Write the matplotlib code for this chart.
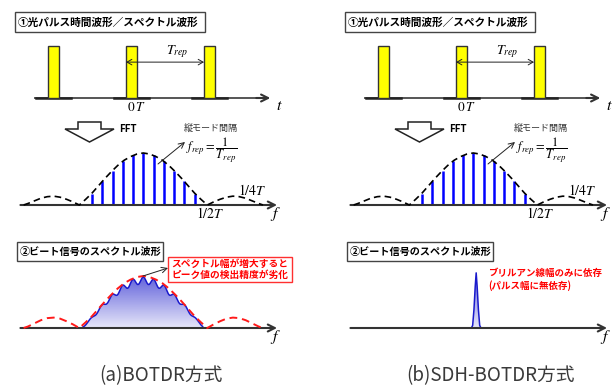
import matplotlib
matplotlib.use('Agg')
import matplotlib.pyplot as plt
import numpy as np
from matplotlib.patches import Rectangle, Polygon
from matplotlib.colors import LinearSegmentedColormap

plt.rcParams['font.family'] = ['Noto Sans CJK JP', 'DejaVu Sans']
plt.rcParams['mathtext.fontset'] = 'stix'

W, H = 615, 386

# optical pulse train, time in units of T_rep
pulse_times = [-1, 0, 1]
pulse_width = 0.14
pulse_height = 1.0

# longitudinal modes, frequency in units of 1/2T
mode_freqs = [-0.80, -0.64, -0.48, -0.32, -0.16, 0.0, 0.16, 0.32, 0.48, 0.64, 0.80]
mode_amps = [0.21, 0.46, 0.66, 0.84, 0.955, 1.0, 0.955, 0.84, 0.66, 0.46, 0.21]

# |sinc| envelope, positive half (mirrored when drawn)
env_freqs = [0.0, 0.1, 0.2, 0.3, 0.4, 0.5, 0.6, 0.7, 0.8, 0.9, 1.0,
             1.1, 1.2, 1.3, 1.4, 1.5, 1.6, 1.7, 1.8, 1.87]
env_spec = [1.0, 0.98, 0.93, 0.86, 0.76, 0.64, 0.51, 0.37, 0.23, 0.11, 0.0,
            0.06, 0.11, 0.15, 0.17, 0.16, 0.13, 0.08, 0.03, 0.0]
env_beat = [1.0, 0.98, 0.93, 0.86, 0.76, 0.64, 0.51, 0.37, 0.23, 0.11, 0.0,
            0.07, 0.13, 0.18, 0.20, 0.19, 0.15, 0.09, 0.03, 0.0]

# SDH-BOTDR beat spectrum: single Brillouin peak
peak_freqs = [-0.20, -0.03, -0.01, 0.01, 0.03, 0.045, 0.06, 0.08, 0.10, 0.12, 0.27]
peak_amps = [0.0, 0.0, 0.05, 0.35, 0.8, 1.06, 0.8, 0.35, 0.05, 0.0, 0.0]

fig = plt.figure(figsize=(W / 100, H / 100), dpi=100)


def panel(x0, y0, box, sx, sy):
    # axes whose data origin sits at pixel (x0, y0), sx/sy pixels per unit
    l, t, r, b = box
    ax = fig.add_axes([l / W, 1 - b / H, (r - l) / W, (b - t) / H])
    ax.set_xlim((l - x0) / sx, (r - x0) / sx)
    ax.set_ylim((y0 - b) / sy, (y0 - t) / sy)
    ax.axis('off')
    return ax


def freq_axis(ax):
    ax.annotate('', xy=(2.09, 0), xytext=(-1.92, 0),
                arrowprops=dict(arrowstyle='->,head_length=0.5,head_width=0.25',
                                color='#333333', lw=1.5, shrinkA=0, shrinkB=0))
    ax.text(2.07, -0.17, r'$f$', fontsize=11.5, ha='center', va='center')


def mirror(xs, ys):
    xs, ys = np.asarray(xs), np.asarray(ys)
    return np.r_[-xs[::-1], xs[1:]], np.r_[ys[::-1], ys[1:]]


ex, ey_spec = mirror(env_freqs, env_spec)
_, ey_beat = mirror(env_freqs, env_beat)

grad = LinearSegmentedColormap.from_list('beat', ['#e6e6f9', '#6565dc'])

for dx, mode in [(0, 'a'), (330, 'b')]:
    # pulse train in time
    ax = panel(131.5 + dx, 98, (25 + dx, 38, 295 + dx, 118), 78, 52)
    ax.plot([-1.24, 1.7], [0, 0], color='#555555', lw=1.4)
    for t0 in pulse_times:
        ax.plot([t0 - 0.22, t0 + 0.22], [0, 0], color='#222222', lw=1.8)
        ax.add_patch(Rectangle((t0 - pulse_width / 2, 0), pulse_width, pulse_height,
                               facecolor='#ffff00', edgecolor='#333333', lw=1, zorder=3))
    ax.annotate('', xy=(1.78, 0), xytext=(1.6, 0),
                arrowprops=dict(arrowstyle='->,head_length=0.5,head_width=0.25',
                                color='#333333', lw=1.5, shrinkA=0, shrinkB=0))
    ax.annotate('', xy=(1 - pulse_width / 2, 0.69), xytext=(-pulse_width / 2, 0.69),
                arrowprops=dict(arrowstyle='<->,head_length=0.35,head_width=0.2',
                                color='#222222', lw=0.7, shrinkA=0, shrinkB=0), zorder=4)
    ax.text(0.58, 0.9, r'$T_{rep}$', fontsize=10, ha='center', va='center')
    ax.text(0.06, -0.19, r'$0\,T$', fontsize=9.5, ha='center', va='center')
    ax.text(1.9, -0.15, r'$t$', fontsize=11.5, ha='center', va='center')

    # optical spectrum: mode lines under the sinc envelope
    ax = panel(143.3 + dx, 205, (15 + dx, 115, 292 + dx, 225), 64, 52)
    freq_axis(ax)
    ax.vlines(mode_freqs, 0, mode_amps, color='#0000ff', lw=1.8, zorder=2)
    ax.plot(ex, ey_spec, color='black', lw=1.2, dashes=(4, 2.5), zorder=3)
    ax.text(1.7, 0.27, r'$1/4T$', fontsize=10, ha='center', va='center')
    ax.text(1.04, -0.17, r'$1/2T$', fontsize=10, ha='center', va='center')

    # beat spectrum
    ax = panel(143.3 + dx, 328, (15 + dx, 262, 292 + dx, 350), 64, 52)
    freq_axis(ax)
    if mode == 'a':
        grid = np.linspace(-0.95, 0.93, 400)
        beat = sum(a * np.exp(-0.5 * ((grid - f) / 0.066) ** 2)
                   for f, a in zip(mode_freqs, mode_amps))
        beat = beat * 0.98 / beat.max()
        bx = np.r_[grid[0], grid, grid[-1]]
        by = np.r_[0, beat, 0]
        ax.plot(ex, ey_beat, color='#ff1a1a', lw=1.4, dashes=(4, 2.5), zorder=3)
    else:
        bx = np.asarray(peak_freqs)
        by = np.asarray(peak_amps)
    poly = Polygon(np.c_[bx, by], closed=True, facecolor='none', edgecolor='none')
    ax.add_patch(poly)
    img = ax.imshow(np.linspace(0, 1, 100)[:, None], cmap=grad, origin='lower',
                    extent=(bx.min(), bx.max(), 0, by.max()), aspect='auto', zorder=1)
    img.set_clip_path(poly)
    ax.plot(bx, by, color='#1a1acc', lw=1.1, zorder=2)
    l, t, r, b = (15 + dx, 262, 292 + dx, 350)
    ax.set_xlim((l - 143.3 - dx) / 64, (r - 143.3 - dx) / 64)
    ax.set_ylim((328 - b) / 52, (328 - t) / 52)

# overlay in pixel coordinates for boxes, labels and callouts
deco = fig.add_axes([0, 0, 1, 1], zorder=5)
deco.set_xlim(0, W)
deco.set_ylim(H, 0)
deco.axis('off')
deco.patch.set_alpha(0)

for dx, caption in [(0, '(a)BOTDR方式'), (330, '(b)SDH-BOTDR方式')]:
    deco.add_patch(Rectangle((15 + dx, 12), 190, 20, facecolor='white',
                             edgecolor='#444444', lw=1))
    deco.text(18 + dx, 22.5, '①光パルス時間波形／スペクトル波形', fontsize=7.7,
              fontweight='bold', ha='left', va='center')
    deco.add_patch(Rectangle((17 + dx, 242), 146, 19, facecolor='white',
                             edgecolor='#444444', lw=1))
    deco.text(20 + dx, 251.5, '②ビート信号のスペクトル波形', fontsize=7.3,
              fontweight='bold', ha='left', va='center')

    # hollow FFT arrow
    deco.add_patch(Polygon([(78 + dx, 122), (101 + dx, 122), (101 + dx, 129),
                            (114 + dx, 129), (89.5 + dx, 142), (65 + dx, 129),
                            (78 + dx, 129)], closed=True, facecolor='white',
                           edgecolor='#222222', lw=1.1))
    deco.text(119 + dx, 129.5, 'FFT', fontsize=7, fontweight='bold',
              ha='left', va='center')
    deco.text(211 + dx, 129, '縦モード間隔', fontsize=6.5, color='#333333',
              ha='center', va='center')
    deco.text(212 + dx, 150, r'$f_{rep}=\dfrac{1}{T_{rep}}$', fontsize=9,
              ha='center', va='center')
    deco.annotate('', xy=(185 + dx, 142), xytext=(158 + dx, 164),
                  arrowprops=dict(arrowstyle='->,head_length=0.4,head_width=0.2',
                                  color='#222222', lw=0.7, shrinkA=0, shrinkB=0))

    deco.text(161 + dx, 376, caption, fontsize=13.5, color='#3a3a3a',
              ha='center', va='center')

# BOTDR callout
deco.add_patch(Rectangle((168, 257), 124, 25, facecolor='white',
                         edgecolor='#ff3030', lw=1))
deco.text(230, 263.5, 'スペクトル幅が増大すると', fontsize=7, color='#ff0000',
          fontweight='bold', ha='center', va='center')
deco.text(230, 275, 'ピーク値の検出精度が劣化', fontsize=7, color='#ff0000',
          fontweight='bold', ha='center', va='center')
deco.annotate('', xy=(168, 268), xytext=(143, 276),
              arrowprops=dict(arrowstyle='->,head_length=0.4,head_width=0.2',
                              color='#222222', lw=0.7, shrinkA=0, shrinkB=0))

# SDH-BOTDR note
deco.text(488, 273, 'ブリルアン線幅のみに依存', fontsize=6.8, color='#ff0000',
          fontweight='bold', ha='left', va='center')
deco.text(488, 286, '(パルス幅に無依存)', fontsize=6.8, color='#ff0000',
          fontweight='bold', ha='left', va='center')

fig.savefig('out.png', dpi=100)
